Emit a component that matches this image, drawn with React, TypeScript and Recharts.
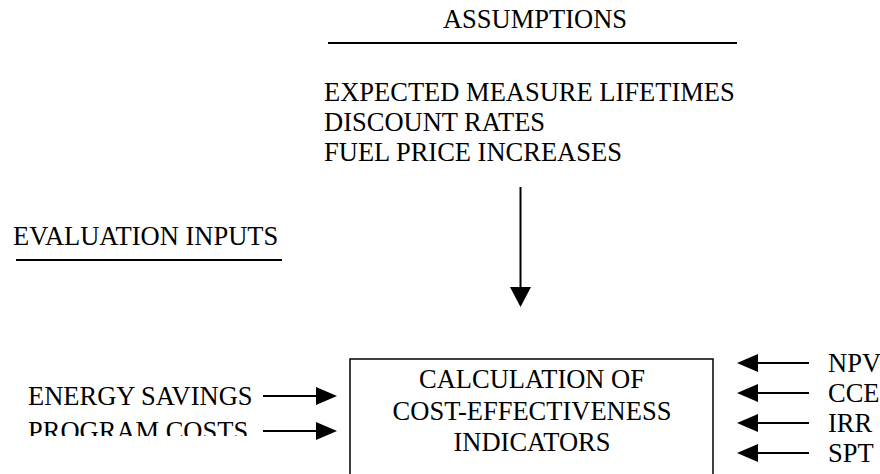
import { ScatterChart, Scatter, XAxis, YAxis, ReferenceLine, ReferenceArea } from 'recharts';

// diagram text
const ASSUMPTIONS_TITLE = 'ASSUMPTIONS';
const assumptionItems = ['EXPECTED MEASURE LIFETIMES', 'DISCOUNT RATES', 'FUEL PRICE INCREASES'];
const INPUTS_TITLE = 'EVALUATION INPUTS';
const inputItems = ['ENERGY SAVINGS', 'PROGRAM COSTS'];
const calcLines = ['CALCULATION OF', 'COST-EFFECTIVENESS', 'INDICATORS'];
const indicators = ['NPV', 'CCE', 'IRR', 'SPT'];

const W = 880;
const H = 474;
const FONT = '"Liberation Serif", "Times New Roman", serif';
const FS = 26.5;

// layout in axis units (1 unit = 1px, y grows downwards)
const L = {
  titleX: 535, titleY: 28, ruleY: 43, ruleX1: 328, ruleX2: 737,
  itemsX: 324, itemsY: [101, 131, 161],
  downX: 520.5, downY1: 187, downY2: 307,
  inputsTitleX: 13, inputsTitleY: 245, inputsRuleY: 260, inputsRuleX1: 16, inputsRuleX2: 282,
  boxX1: 350, boxX2: 713, boxY1: 359,
  calcX: 532, calcY: [388, 420, 451],
  inputX: 28, inputArrowY: [396, 431], inputArrowX1: 263, inputArrowX2: 337,
  indArrowY: [363, 393, 423, 453], indArrowX1: 809, indArrowX2: 737, indX: 828,
};

const HEAD_LEN = 21;
const HEAD_W = 18;

function TextShape(props: any) {
  const { cx, cy, payload } = props;
  const id = 'clip-' + payload.text.replace(/[^A-Z]/g, '');
  return (
    <g>
      {payload.clip && (
        <defs>
          <clipPath id={id}>
            <rect x={0} y={0} width={W} height={cy - payload.clip} />
          </clipPath>
        </defs>
      )}
      <text
        x={cx}
        y={cy}
        textAnchor={payload.anchor ?? 'start'}
        fontFamily={FONT}
        fontSize={FS}
        fill="#000"
        clipPath={payload.clip ? `url(#${id})` : undefined}
      >
        {payload.text}
      </text>
    </g>
  );
}

function HeadShape(props: any) {
  const { cx, cy, payload } = props;
  let pts = '';
  if (payload.dir === 'right') pts = `${cx},${cy} ${cx - HEAD_LEN},${cy - HEAD_W / 2} ${cx - HEAD_LEN},${cy + HEAD_W / 2}`;
  if (payload.dir === 'left') pts = `${cx},${cy} ${cx + HEAD_LEN},${cy - HEAD_W / 2} ${cx + HEAD_LEN},${cy + HEAD_W / 2}`;
  if (payload.dir === 'down') pts = `${cx},${cy} ${cx - 10.5},${cy - 20} ${cx + 10.5},${cy - 20}`;
  return <polygon points={pts} fill="#000" />;
}

export default function App() {
  const texts = [
    { x: L.titleX, y: L.titleY, text: ASSUMPTIONS_TITLE, anchor: 'middle' },
    ...assumptionItems.map((t, i) => ({ x: L.itemsX, y: L.itemsY[i], text: t })),
    { x: L.inputsTitleX, y: L.inputsTitleY, text: INPUTS_TITLE },
    ...calcLines.map((t, i) => ({ x: L.calcX, y: L.calcY[i], text: t, anchor: 'middle' })),
    ...inputItems.map((t, i) => ({
      x: L.inputX, y: L.inputArrowY[i] + 9, text: t, clip: i === 1 ? 4 : 0,
    })),
    ...indicators.map((t, i) => ({ x: L.indX, y: L.indArrowY[i] + 8.5, text: t })),
  ];

  const heads = [
    { x: L.downX, y: L.downY2, dir: 'down' },
    ...inputItems.map((_, i) => ({ x: L.inputArrowX2, y: L.inputArrowY[i], dir: 'right' })),
    ...indicators.map((_, i) => ({ x: L.indArrowX2, y: L.indArrowY[i], dir: 'left' })),
  ];

  const lineProps = { stroke: '#000', strokeWidth: 2, ifOverflow: 'visible' as const };

  return (
    <div style={{ position: 'absolute', left: 0, top: 0, background: '#fff' }}>
      <ScatterChart width={W} height={H} margin={{ top: 0, right: 0, bottom: 0, left: 0 }}>
        <XAxis type="number" dataKey="x" domain={[0, W]} hide />
        <YAxis type="number" dataKey="y" domain={[0, H]} reversed hide />

        <ReferenceLine {...lineProps} segment={[{ x: L.ruleX1, y: L.ruleY }, { x: L.ruleX2, y: L.ruleY }]} />
        <ReferenceLine {...lineProps} segment={[{ x: L.inputsRuleX1, y: L.inputsRuleY }, { x: L.inputsRuleX2, y: L.inputsRuleY }]} />
        <ReferenceLine {...lineProps} segment={[{ x: L.downX, y: L.downY1 }, { x: L.downX, y: L.downY2 - 18 }]} />
        {inputItems.map((t, i) => (
          <ReferenceLine
            key={t}
            {...lineProps}
            segment={[{ x: L.inputArrowX1, y: L.inputArrowY[i] }, { x: L.inputArrowX2 - HEAD_LEN + 2, y: L.inputArrowY[i] }]}
          />
        ))}
        {indicators.map((t, i) => (
          <ReferenceLine
            key={t}
            {...lineProps}
            segment={[{ x: L.indArrowX1, y: L.indArrowY[i] }, { x: L.indArrowX2 + HEAD_LEN - 2, y: L.indArrowY[i] }]}
          />
        ))}

        <ReferenceArea
          x1={L.boxX1}
          x2={L.boxX2}
          y1={L.boxY1}
          y2={H + 10}
          fill="none"
          fillOpacity={0}
          stroke="#000"
          strokeWidth={1.5}
          ifOverflow="visible"
        />

        <Scatter data={heads} shape={HeadShape} isAnimationActive={false} />
        <Scatter data={texts} shape={TextShape} isAnimationActive={false} />
      </ScatterChart>
    </div>
  );
}
